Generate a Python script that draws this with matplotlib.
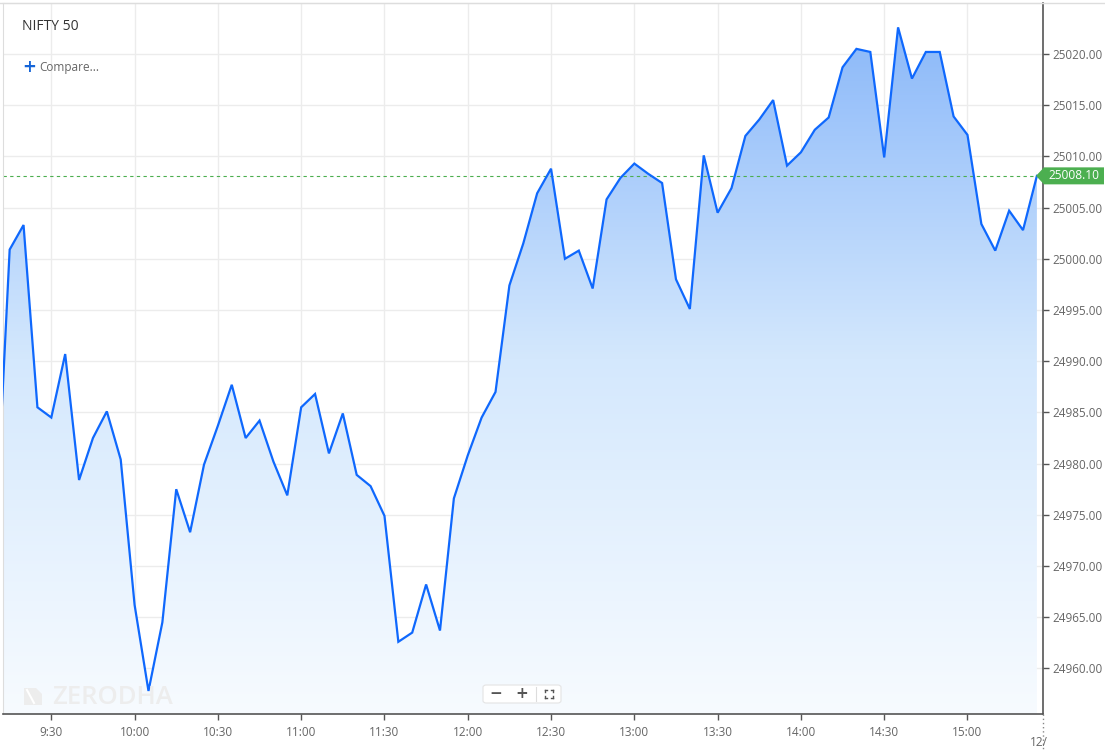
import matplotlib
matplotlib.use('Agg')
import numpy as np
import matplotlib.pyplot as plt
from matplotlib.patches import Polygon, FancyBboxPatch
from matplotlib.colors import LinearSegmentedColormap
from matplotlib.transforms import blended_transform_factory

plt.rcParams['font.family'] = ['Open Sans', 'DejaVu Sans']

# 5 minute closes, first point is the previous session's last print
start_minute = 9 * 60 + 10
close = [24973.5,
         25000.9, 25003.3, 24985.5, 24984.5, 24990.7, 24978.4, 24982.5, 24985.1,
         24980.4, 24966.2, 24957.8, 24964.5, 24977.5, 24973.3, 24979.9, 24983.7,
         24987.7, 24982.5, 24984.2, 24980.2, 24976.9, 24985.5, 24986.8, 24981.0,
         24984.9, 24978.9, 24977.8, 24974.9, 24962.6, 24963.5, 24968.2, 24963.7,
         24976.6, 24980.8, 24984.5, 24987.0, 24997.4, 25001.5, 25006.4, 25008.8,
         25000.0, 25000.8, 24997.1, 25005.8, 25007.9, 25009.3, 25008.3, 25007.4,
         24998.0, 24995.1, 25010.1, 25004.5, 25006.9, 25012.0, 25013.6, 25015.5,
         25009.1, 25010.4, 25012.6, 25013.8, 25018.7, 25020.5, 25020.2, 25009.9,
         25022.6, 25017.6, 25020.2, 25020.2, 25013.9, 25012.1, 25003.4, 25000.8,
         25004.7, 25002.8, 25008.1]
last_price = 25008.10
tick_times = ['9:30', '10:00', '10:30', '11:00', '11:30', '12:00',
              '12:30', '13:00', '13:30', '14:00', '14:30', '15:00']
price_ticks = [24960, 24965, 24970, 24975, 24980, 24985, 24990, 24995,
               25000, 25005, 25010, 25015, 25020]
symbol = 'NIFTY 50'

W, H = 1105, 752
fig = plt.figure(figsize=(W / 100, H / 100), dpi=100)
fig.patch.set_facecolor('white')
x0, x1, y0, y1 = 3, 1043, 3, 714
ax = fig.add_axes([x0 / W, 1 - y1 / H, (x1 - x0) / W, (y1 - y0) / H])

minutes = start_minute + 5 * np.arange(len(close))
close = np.array(close)
xmin, xmax = 552.6, 927.2
ymin, ymax = 24955.55, 25024.98
ax.set_xlim(xmin, xmax)
ax.set_ylim(ymin, ymax)

# gradient area under the line
cmap = LinearSegmentedColormap.from_list('area', ['#f7fbff', '#d4e8fd', '#86b5f9'])
grad = np.linspace(0, 1, 256).reshape(-1, 1)
img = ax.imshow(grad, extent=[xmin, xmax, ymin, ymax], origin='lower',
                aspect='auto', cmap=cmap, zorder=1)
verts = np.column_stack([np.r_[minutes, minutes[-1], minutes[0]],
                         np.r_[close, ymin, ymin]])
poly = Polygon(verts, closed=True, facecolor='none', edgecolor='none')
ax.add_patch(poly)
img.set_clip_path(poly)

ax.plot(minutes, close, color='#0f68fd', lw=1.6, zorder=3, solid_joinstyle='miter')

# last price marker
ax.plot([xmin, minutes[-1]], [last_price, last_price], color='#4cae4f', lw=0.8,
        dashes=(3, 3), zorder=2)
tr = blended_transform_factory(ax.transAxes, ax.transData)
hh = 8.5 / 10.24
bx0, bx1, tip = (1036 - x0) / 1040, (1104 - x0) / 1040, (1044 - x0) / 1040
badge = Polygon([(bx0, last_price), (tip, last_price + hh), (bx1, last_price + hh),
                 (bx1, last_price - hh), (tip, last_price - hh)],
                closed=True, transform=tr, facecolor='#4caf50', edgecolor='none',
                clip_on=False, zorder=6)
ax.add_patch(badge)
ax.text((1048 - x0) / 1040, last_price, f'{last_price:.2f}', transform=tr,
        color='white', fontsize=8.6, va='center', ha='left', zorder=7, clip_on=False)

# axes, ticks, grid
ax.set_xticks([int(t.split(':')[0]) * 60 + int(t.split(':')[1]) for t in tick_times])
ax.set_xticklabels(tick_times)
ax.set_yticks(price_ticks)
ax.set_yticklabels([f'{p:.2f}' for p in price_ticks])
ax.yaxis.tick_right()
ax.grid(True, color='#ececec', lw=1, zorder=0)
ax.set_axisbelow(True)
ax.tick_params(axis='x', colors='#555555', labelcolor='#666666', labelsize=8.5,
               length=4, width=1, pad=5)
ax.tick_params(axis='y', colors='#555555', labelcolor='#666666', labelsize=8.4,
               length=4, width=1, pad=3)
for side in ['left', 'top']:
    ax.spines[side].set_color('#dddddd')
for side in ['right', 'bottom']:
    ax.spines[side].set_color('#555555')
    ax.spines[side].set_linewidth(1.2)

# dotted day separator and clipped date
fig.add_artist(plt.Line2D([x1 / W, x1 / W], [1 - 714 / H, 1 - 750 / H],
                          color='#888888', lw=1, dashes=(1, 2)))
fig.text(1030 / W, 1 - 743 / H, '12/', color='#666666', fontsize=8.5,
         ha='left', va='center')
fig.add_artist(plt.Line2D([0, 1], [1 - 3 / H, 1 - 3 / H], color='#dddddd', lw=1))

# header
fig.text(22 / W, 1 - 26 / H, symbol, color='#333333', fontsize=10, va='center')
fig.text(22 / W, 1 - 67 / H, '+', color='#1565d8', fontsize=12, va='center',
         fontweight='bold', family=['DejaVu Sans'])
fig.text(39 / W, 1 - 67 / H, 'Compare...', color='#666666', fontsize=8.5, va='center')

# watermark
logo = Polygon([(24, 688), (36, 688), (42, 694), (42, 705), (24, 705)], closed=True,
               transform=None, facecolor='#ededed', edgecolor='none')
logo.set_xy([(px, H - py) for px, py in logo.get_xy()])
fig.add_artist(logo)
fig.add_artist(plt.Line2D([27 / W, 34 / W], [1 - 690 / H, 1 - 703 / H],
                          color='white', lw=1.5))
fig.text(52 / W, 1 - 697 / H, 'ZERODHA', color='#ededed', fontsize=18.5,
         fontweight='semibold', va='center', ha='left')

# zoom control
box = FancyBboxPatch((483 / W, 1 - 703 / H), 78 / W, 18 / H,
                     boxstyle='round,pad=0,rounding_size=0.003',
                     transform=fig.transFigure, facecolor='white',
                     edgecolor='#e4e4e4', lw=0.8, zorder=10)
fig.add_artist(box)
fig.text(496 / W, 1 - 694 / H, '\u2212', color='#555555', fontsize=11,
         ha='center', va='center', fontweight='bold', family=['DejaVu Sans'], zorder=11)
fig.text(522 / W, 1 - 694 / H, '+', color='#555555', fontsize=11,
         ha='center', va='center', fontweight='bold', family=['DejaVu Sans'], zorder=11)
fig.add_artist(plt.Line2D([536 / W, 536 / W], [1 - 687 / H, 1 - 701 / H],
                          color='#dddddd', lw=0.8, zorder=11))
cx, cy, s, c = 549, 694, 4, 2
for dx in (-1, 1):
    for dy in (-1, 1):
        px, py = cx + dx * s, cy + dy * s
        fig.add_artist(plt.Line2D([px / W, (px - dx * c) / W],
                                  [1 - py / H, 1 - py / H], color='#555555', lw=1,
                                  zorder=11))
        fig.add_artist(plt.Line2D([px / W, px / W],
                                  [1 - py / H, 1 - (py - dy * c) / H],
                                  color='#555555', lw=1, zorder=11))

fig.savefig('out.png', dpi=100)
